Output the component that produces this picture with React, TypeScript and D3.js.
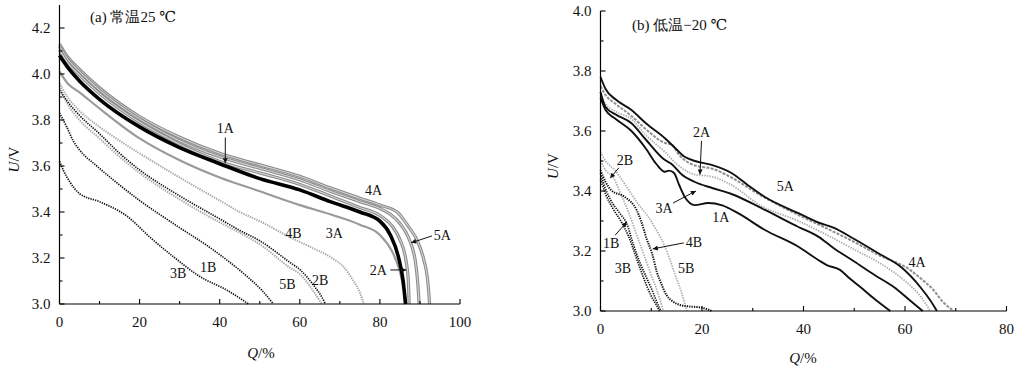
import React from "react";
import * as d3 from "d3";

type P = [number, number];

// ---------- (a) 25 °C : Q (%) , U (V) ----------
const L_1A: P[] = [[0,4.08],[2,4.03],[5,3.97],[10,3.89],[20,3.77],[30,3.68],[40,3.61],[50,3.545],[60,3.496],[67.6,3.445],[75,3.40],[80,3.36],[82.6,3.30],[84.6,3.206],[85.8,3.10],[86.4,3.0]];
const L_2A: P[] = [[0,4.105],[2,4.05],[5,3.995],[10,3.915],[20,3.79],[30,3.695],[40,3.62],[50,3.57],[60,3.52],[67.6,3.47],[75,3.42],[80,3.385],[83,3.34],[85,3.28],[86.5,3.19],[87.1,3.10],[87.3,3.0]];
const L_3A: P[] = [[0,4.01],[2,3.96],[5,3.92],[10,3.85],[20,3.72],[30,3.625],[40,3.55],[50,3.49],[60,3.43],[67.6,3.39],[75,3.345],[80,3.30],[83,3.23],[85,3.14],[86,3.06],[86.6,3.0]];
const L_4A: P[] = [[0,4.13],[2,4.075],[5,4.02],[10,3.94],[20,3.815],[30,3.725],[40,3.655],[50,3.605],[60,3.555],[67.6,3.505],[75,3.46],[80,3.43],[84.3,3.40],[87,3.34],[89.6,3.265],[91,3.19],[91.8,3.12],[92.2,3.05],[92.4,3.0]];
const L_5A: P[] = [[0,4.12],[2,4.065],[5,4.01],[10,3.93],[20,3.805],[30,3.71],[40,3.64],[50,3.59],[60,3.54],[67.6,3.49],[75,3.445],[80,3.415],[82.6,3.39],[85,3.35],[87.1,3.29],[88.9,3.18],[89.5,3.08],[89.8,3.0]];
const L_1B: P[] = [[0,3.83],[1.8,3.77],[3.4,3.71],[5,3.67],[9.3,3.60],[13.4,3.54],[20,3.45],[28.4,3.35],[38.4,3.235],[46.8,3.12],[50.5,3.06],[53.4,3.0]];
const L_2B: P[] = [[0,3.93],[2,3.88],[5,3.82],[10,3.74],[15,3.655],[20,3.583],[30,3.47],[40,3.37],[45,3.32],[50,3.275],[57.6,3.18],[60,3.15],[63.5,3.08],[65.5,3.03],[66.4,3.0]];
const L_3B: P[] = [[0,3.62],[1,3.58],[2.6,3.53],[5,3.48],[10,3.445],[17,3.38],[22.6,3.29],[28.4,3.206],[35,3.12],[41.8,3.06],[47.2,3.0]];
const L_4B: P[] = [[0,3.96],[2,3.90],[5,3.84],[10,3.77],[15,3.71],[20,3.655],[30,3.55],[40,3.45],[45,3.40],[50,3.36],[57.6,3.29],[63,3.245],[68,3.20],[71,3.16],[73.4,3.10],[75,3.05],[76,3.0]];
const L_5B: P[] = [[0,3.95],[2,3.87],[5,3.80],[10,3.72],[15,3.64],[20,3.57],[30,3.455],[40,3.355],[45,3.31],[50,3.26],[57.6,3.157],[60,3.13],[63.5,3.053],[65.5,3.0]];

// ---------- (b) -20 °C ----------
const R_5A: P[] = [[0,3.78],[1,3.74],[3,3.705],[6.1,3.67],[9,3.625],[12.7,3.576],[14.6,3.545],[16.5,3.515],[18.6,3.50],[21.9,3.487],[25.8,3.46],[29,3.42],[32.4,3.38],[39,3.326],[42.9,3.295],[45.9,3.278],[50,3.24],[55,3.19],[59.1,3.148],[63,3.08],[65,3.035],[66.3,3.0]];
const R_4A: P[] = [[0,3.75],[1,3.72],[3,3.69],[6.1,3.65],[9,3.605],[12.7,3.56],[14,3.555],[15.5,3.52],[18.6,3.485],[21.9,3.475],[25.8,3.445],[31.4,3.387],[39,3.32],[45,3.272],[50,3.23],[55,3.185],[61,3.137],[63,3.11],[65.6,3.07],[67.5,3.03],[69.6,3.0]];
const R_2A: P[] = [[0,3.72],[1,3.69],[3,3.665],[6.1,3.64],[9,3.585],[12.7,3.53],[15,3.49],[18.6,3.455],[21.9,3.448],[25.8,3.42],[31.4,3.353],[39,3.30],[45,3.25],[50,3.205],[55,3.16],[60,3.10],[63,3.05],[65,3.0]];
const R_3A: P[] = [[0,3.73],[1,3.68],[3,3.655],[6.1,3.626],[9,3.57],[12.7,3.503],[14,3.49],[16,3.455],[18.6,3.43],[22,3.41],[25.8,3.39],[32.4,3.337],[39,3.28],[42.9,3.248],[45.9,3.21],[50,3.165],[54,3.12],[57.8,3.08],[61,3.035],[63.5,3.0]];
const R_1A: P[] = [[0,3.71],[1,3.67],[3,3.64],[6.1,3.60],[9,3.54],[11,3.49],[12.7,3.464],[13.5,3.468],[14.5,3.46],[15.5,3.42],[16.6,3.38],[18.6,3.353],[21.2,3.36],[24,3.352],[27.1,3.326],[32.4,3.27],[39,3.214],[42.9,3.17],[44.6,3.153],[47.2,3.137],[49,3.11],[51.2,3.08],[54,3.04],[57.1,3.0]];
const R_1B: P[] = [[0,3.46],[0.5,3.43],[2,3.37],[3.8,3.326],[5.2,3.29],[6.5,3.22],[7.8,3.16],[9.1,3.11],[10.4,3.06],[11.1,3.03],[11.9,3.0]];
const R_2B: P[] = [[0,3.50],[1,3.47],[2.5,3.445],[4,3.39],[5.5,3.33],[7,3.26],[8.5,3.19],[10,3.12],[11.3,3.06],[12.4,3.0]];
const R_3B: P[] = [[0,3.44],[1,3.39],[2.5,3.34],[4,3.30],[5.5,3.25],[7,3.18],[8.5,3.11],[10,3.05],[11,3.02],[11.6,3.0]];
const R_4B: P[] = [[0,3.47],[1,3.43],[2.1,3.403],[4.8,3.38],[7.1,3.337],[8,3.30],[9.1,3.24],[10.2,3.19],[11.1,3.13],[12,3.09],[13,3.053],[14,3.035],[15.7,3.02],[17.5,3.015],[19.6,3.012],[21,3.006],[21.9,3.0]];
const R_5B: P[] = [[0,3.53],[1,3.50],[2.8,3.47],[4.5,3.43],[6.1,3.39],[7.5,3.355],[9.4,3.314],[11,3.27],[12.7,3.214],[13.7,3.17],[14.6,3.126],[15.8,3.07],[16.6,3.025],[17.0,3.0]];

// ---------- ticks ----------
const L_XTICKS = [0, 20, 40, 60, 80, 100];
const L_XMINOR = [10, 30, 50, 70, 90];
const L_YTICKS = [3.0, 3.2, 3.4, 3.6, 3.8, 4.0, 4.2];
const L_YMINOR = [3.1, 3.3, 3.5, 3.7, 3.9, 4.1];
const R_XTICKS = [0, 20, 40, 60, 80];
const R_XMINOR = [10, 30, 50, 70];
const R_YTICKS = [3.0, 3.2, 3.4, 3.6, 3.8, 4.0];
const R_YMINOR = [3.1, 3.3, 3.5, 3.7, 3.9];

// ---------- labels (text, Q, U) and arrows (Q1,U1 -> Q2,U2) ----------
const L_LABELS: [string, number, number][] = [
  ["1A", 41.4, 3.765], ["4A", 78.4, 3.496], ["3A", 68.6, 3.309], ["5A", 95.6, 3.30],
  ["2A", 79.6, 3.148], ["4B", 58.4, 3.309], ["5B", 56.9, 3.087], ["2B", 65.1, 3.104],
  ["3B", 29.6, 3.135], ["1B", 37.1, 3.161],
];
const L_ARROWS: [number, number, number, number][] = [
  [41.4, 3.724, 41.4, 3.612], [93.0, 3.296, 87.8, 3.266], [82.6, 3.148, 86.6, 3.148],
];
const R_LABELS: [string, number, number][] = [
  ["2A", 19.9, 3.597], ["2B", 4.8, 3.503], ["3A", 12.5, 3.343], ["1A", 23.7, 3.313],
  ["5A", 36.4, 3.417], ["1B", 2.1, 3.227], ["4B", 18.4, 3.230], ["3B", 4.4, 3.143],
  ["5B", 16.9, 3.143], ["4A", 62.4, 3.163],
];
const R_ARROWS: [number, number, number, number][] = [
  [19.9, 3.567, 19.6, 3.455], [3.6, 3.477, 1.9, 3.443], [14.3, 3.36, 18.8, 3.40],
  [2.9, 3.253, 5.2, 3.297], [16.4, 3.227, 10.3, 3.207],
];

const SERIF = "Liberation Serif, DejaVu Serif, serif";

type Sty = { stroke: string; width: number; dash?: string; inner?: string };
const BLACK_THICK: Sty = { stroke: "#000", width: 3.6 };
const GRAY_DOUBLE: Sty = { stroke: "#8a8a8a", width: 3.2, inner: "#d4d4d4" };
const GRAY_SOLID: Sty = { stroke: "#9a9a9a", width: 2.2 };
const BLACK_DOT: Sty = { stroke: "#111", width: 1.7, dash: "1.3 1.1" };
const GRAY_DOT: Sty = { stroke: "#a6a6a6", width: 2.0, dash: "1.3 1.1" };
const BLACK_LINE: Sty = { stroke: "#111", width: 1.9 };
const GRAY_DASH: Sty = { stroke: "#8f8f8f", width: 2.0, dash: "3 1.3" };
const GRAY_DOT2: Sty = { stroke: "#aaaaaa", width: 1.7, dash: "1.4 1.2" };

type PanelProps = {
  xDom: [number, number]; xRange: [number, number];
  yDom: [number, number]; yRange: [number, number];
  xTicks: number[]; xMinor: number[]; yTicks: number[]; yMinor: number[];
  series: { data: P[]; sty: Sty }[];
  labels: [string, number, number][];
  arrows: [number, number, number, number][];
  title: string; titlePos: [number, number];
  yLabelX: number; xLabelY: number; xLabelX: number;
};

function Panel(p: PanelProps) {
  const x = d3.scaleLinear(p.xDom, p.xRange);
  const y = d3.scaleLinear(p.yDom, p.yRange);
  const line = d3.line<P>().x(d => x(d[0])).y(d => y(d[1])).curve(d3.curveMonotoneX);
  const x0 = p.xRange[0];
  const y0 = p.yRange[0];
  const yTop = p.yRange[1];
  const xEnd = p.xRange[1];
  return (
    <g>
      {p.series.map((s, i) => (
        <g key={i}>
          <path d={line(s.data) || ""} fill="none" stroke={s.sty.stroke} strokeWidth={s.sty.width}
            strokeDasharray={s.sty.dash} strokeLinejoin="round" />
          {s.sty.inner && (
            <path d={line(s.data) || ""} fill="none" stroke={s.sty.inner} strokeWidth={1.1} />
          )}
        </g>
      ))}
      <line x1={x0} x2={xEnd} y1={y0} y2={y0} stroke="#000" strokeWidth={1.2} />
      <line x1={x0} x2={x0} y1={y0} y2={yTop} stroke="#000" strokeWidth={1.2} />
      {p.xTicks.map(t => (
        <g key={"xt" + t}>
          <line x1={x(t)} x2={x(t)} y1={y0} y2={y0 - 5} stroke="#000" strokeWidth={1.1} />
          <text x={x(t)} y={y0 + 18} dy="0.35em" textAnchor="middle" fontSize={15} fill="#111">{t}</text>
        </g>
      ))}
      {p.xMinor.map(t => (
        <line key={"xm" + t} x1={x(t)} x2={x(t)} y1={y0} y2={y0 - 3} stroke="#000" strokeWidth={1.1} />
      ))}
      {p.yTicks.map(t => (
        <g key={"yt" + t}>
          <line x1={x0} x2={x0 + 5} y1={y(t)} y2={y(t)} stroke="#000" strokeWidth={1.1} />
          <text x={x0 - 9} y={y(t)} dy="0.35em" textAnchor="end" fontSize={15} fill="#111">{t.toFixed(1)}</text>
        </g>
      ))}
      {p.yMinor.map(t => (
        <line key={"ym" + t} x1={x0} x2={x0 + 3} y1={y(t)} y2={y(t)} stroke="#000" strokeWidth={1.1} />
      ))}
      {p.labels.map(([s, q, u], i) => (
        <text key={"l" + i} x={x(q)} y={y(u)} dy="0.35em" textAnchor="middle" fontSize={14} fill="#111">{s}</text>
      ))}
      {p.arrows.map(([q1, u1, q2, u2], i) => (
        <line key={"a" + i} x1={x(q1)} y1={y(u1)} x2={x(q2)} y2={y(u2)} stroke="#111" strokeWidth={1} markerEnd="url(#ah)" />
      ))}
      <text x={p.titlePos[0]} y={p.titlePos[1]} dy="0.35em" fontSize={15} fill="#111">{p.title}</text>
      <text transform={`translate(${p.yLabelX},${(y0 + yTop) / 2 + 5}) rotate(-90)`} dy="0.35em" textAnchor="middle" fontSize={15} fill="#111">
        <tspan fontStyle="italic">U</tspan>/V
      </text>
      <text x={p.xLabelX} y={p.xLabelY} dy="0.35em" textAnchor="middle" fontSize={15} fill="#111">
        <tspan fontStyle="italic">Q</tspan>/%
      </text>
    </g>
  );
}

export default function App() {
  return (
    <svg width={1024} height={372} fontFamily={SERIF} style={{ position: "absolute", left: 0, top: 0, background: "#fff", fontFamily: SERIF }}>
      <defs>
        <marker id="ah" viewBox="0 0 10 10" refX="10" refY="5" markerWidth="7" markerHeight="5" orient="auto" markerUnits="userSpaceOnUse">
          <path d="M0,0L10,5L0,10z" fill="#111" />
        </marker>
      </defs>
      <rect width={1024} height={372} fill="#fff" />
      <Panel
        xDom={[0, 100]} xRange={[59.5, 460]} yDom={[3.0, 4.3]} yRange={[304, 5]}
        xTicks={L_XTICKS} xMinor={L_XMINOR} yTicks={L_YTICKS} yMinor={L_YMINOR}
        series={[
          { data: L_4A, sty: GRAY_DOUBLE }, { data: L_5A, sty: GRAY_DOUBLE }, { data: L_2A, sty: GRAY_DOUBLE },
          { data: L_3A, sty: GRAY_SOLID }, { data: L_4B, sty: GRAY_DOT }, { data: L_5B, sty: GRAY_DOT },
          { data: L_2B, sty: BLACK_DOT }, { data: L_1B, sty: BLACK_DOT }, { data: L_3B, sty: BLACK_DOT },
          { data: L_1A, sty: BLACK_THICK },
        ]}
        labels={L_LABELS} arrows={L_ARROWS}
        title="(a) 常温25 ℃" titlePos={[90, 17]}
        yLabelX={14} xLabelX={261} xLabelY={353}
      />
      <Panel
        xDom={[0, 80]} xRange={[600.5, 1006.5]} yDom={[3.0, 4.0]} yRange={[311, 11]}
        xTicks={R_XTICKS} xMinor={R_XMINOR} yTicks={R_YTICKS} yMinor={R_YMINOR}
        series={[
          { data: R_4A, sty: GRAY_DASH }, { data: R_2A, sty: GRAY_DOT2 },
          { data: R_5A, sty: BLACK_LINE }, { data: R_3A, sty: BLACK_LINE }, { data: R_1A, sty: BLACK_LINE },
          { data: R_5B, sty: GRAY_DOT2 }, { data: R_2B, sty: GRAY_DOT2 },
          { data: R_1B, sty: BLACK_DOT }, { data: R_3B, sty: BLACK_DOT }, { data: R_4B, sty: { ...BLACK_DOT, width: 2 } },
        ]}
        labels={R_LABELS} arrows={R_ARROWS}
        title="(b) 低温−20 ℃" titlePos={[632, 25]}
        yLabelX={553} xLabelX={803} xLabelY={358}
      />
    </svg>
  );
}
